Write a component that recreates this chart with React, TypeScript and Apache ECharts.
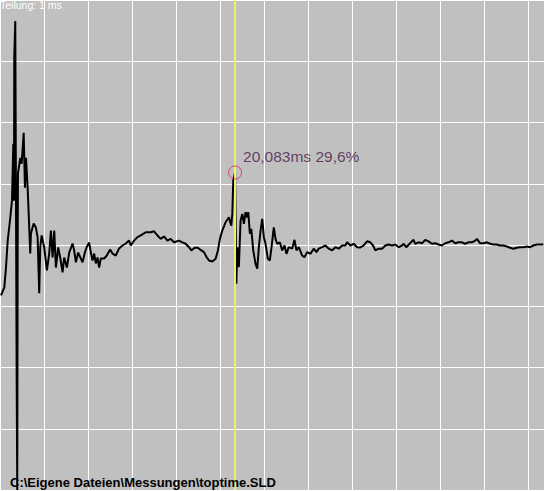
import React, { useEffect, useRef } from "react";
import * as echarts from "echarts";

// time since left edge of the trace window, in ms (1 ms per division)
const timeMs = [
  0.023, 0.098, 0.136, 0.175, 0.227, 0.272, 0.302, 0.318, 0.324, 0.347, 0.379, 0.392, 0.401, 0.408,
  0.46, 0.492, 0.538, 0.567, 0.59, 0.628, 0.658, 0.687, 0.703, 0.764, 0.816, 0.855, 0.891, 0.914,
  0.946, 1.005, 1.066, 1.118, 1.157, 1.195, 1.232, 1.27, 1.322, 1.368, 1.422, 1.458, 1.52, 1.572,
  1.649, 1.685, 1.724, 1.776, 1.837, 1.876, 1.928, 1.966, 2.025, 2.064, 2.102, 2.139, 2.177, 2.216,
  2.252, 2.291, 2.366, 2.427, 2.502, 2.556, 2.631, 2.706, 2.783, 2.858, 2.933, 2.971, 3.046, 3.123,
  3.198, 3.311, 3.425, 3.5, 3.577, 3.652, 3.726, 3.804, 3.878, 3.953, 4.067, 4.144, 4.219, 4.294,
  4.348, 4.423, 4.498, 4.559, 4.634, 4.695, 4.747, 4.824, 4.899, 4.951, 4.997, 5.051, 5.126, 5.201,
  5.255, 5.278, 5.3, 5.34, 5.37, 5.391, 5.427, 5.466, 5.505, 5.541, 5.579, 5.618, 5.641, 5.677,
  5.709, 5.754, 5.806, 5.845, 5.881, 5.92, 5.958, 5.995, 6.033, 6.085, 6.131, 6.169, 6.221, 6.26,
  6.298, 6.357, 6.412, 6.464, 6.509, 6.562, 6.639, 6.691, 6.736, 6.788, 6.866, 6.917, 6.979, 7.054,
  7.128, 7.19, 7.242, 7.319, 7.394, 7.469, 7.546, 7.621, 7.696, 7.773, 7.848, 7.886, 7.961, 8.036,
  8.113, 8.188, 8.263, 8.34, 8.415, 8.476, 8.528, 8.603, 8.68, 8.755, 8.83, 8.907, 8.982, 9.057,
  9.134, 9.17, 9.231, 9.306, 9.361, 9.397, 9.435, 9.51, 9.588, 9.662, 9.737, 9.814, 9.889, 9.964,
  10.041, 10.116, 10.191, 10.268, 10.343, 10.417, 10.494, 10.569, 10.644, 10.721, 10.796, 10.835,
  10.909, 10.984, 11.061, 11.136, 11.211, 11.288, 11.363, 11.438, 11.515, 11.59, 11.665, 11.742,
  11.817, 11.892, 11.969, 12.044, 12.119, 12.196, 12.271, 12.346,
];

// signal level in %
const levelPct = [
  -20.6, -17.3, -9.2, 1.8, 10.0, 18.1, 41.3, 18.1, 76.3, 91.4, -55.2, -100, -5.1, 29.1,
  35.6, 33.2, 45.8, 23.4, 35.6, 23.4, 10.0, -3.5, 4.7, 8.8, 7.1, 3.1, -19.7, -1.0,
  3.9, -1.0, -10.4, -3.5, 5.9, -5.1, 5.9, -9.2, -1.0, -5.1, -11.2, -5.1, -9.2, -3.1,
  0.6, -2.2, -7.1, -3.1, -5.5, -7.1, -3.1, -1.0, 1.0, -3.1, -6.3, -3.5, -7.5, -5.1,
  -9.2, -5.5, -5.5, -4.3, -1.8, -3.5, -4.3, -1.4, -0.2, 0.6, 1.8, -0.2, 1.8, 3.2,
  3.9, 5.2, 5.2, 5.6, 3.9, 2.5, 3.5, 1.8, 2.5, 1.1, 1.8, 1.1, 0.5, -0.9,
  -2.2, -1.1, -1.1, -2.0, -2.9, -5.0, -6.3, -6.7, -5.6, -2.2, 2.5, 5.9, 9.3, 11.3,
  7.9, 12.7, 26.3, 29.6, -15.8, -0.9, -9.0, 10.0, 12.7, 8.6, 13.4, 11.3, 13.4, 4.6,
  6.6, -2.2, -7.7, -9.7, -0.9, 5.9, 10.7, 3.2, 0.5, -5.6, -6.3, -0.9, 7.2, 2.5,
  0.5, 1.1, -2.2, -0.2, -3.6, -0.9, -1.5, 2.1, -2.2, -0.9, -4.3, -5.0, -2.9, -3.6,
  -1.5, -2.9, -1.5, -0.9, -0.2, -1.5, -2.2, -0.9, -1.5, -0.2, -0.2, 1.1, -0.2, 0.5,
  -0.9, -1.0, -0.2, 1.5, 1.1, -0.2, -2.2, -1.5, -1.5, -0.2, 0.2, -0.2, 0.2, -0.9,
  -0.2, 0.5, -0.9, 0.5, 1.5, 2.1, 0.5, 1.1, 0.7, 2.1, 1.5, 0.5, 0.7, 0.2,
  -0.2, 0.7, 1.1, 1.8, 0.7, 1.1, 1.1, 0.5, 1.1, 1.1, 1.8, 2.5,
  0.7, 0.7, 1.1, 0.5, 0.2, 0.2, -0.2, -0.2, -0.6, -1.1, -1.5, -1.1,
  -0.9, -0.9, -0.6, -0.9, -0.2, 0.2, 0.2, 0.2,
];

// cursor
const cursorMs = 5.34;
const cursorPct = 29.6;
const cursorLabel = "20,083ms 29,6%";
const divisionLabel = "Teilung: 1 ms";
const fileLabel = "C:\\Eigene Dateien\\Messungen\\toptime.SLD";

const xMin = 0;
const xMax = 12.36;
const xStep = 1;
const yMin = -100;
const yMax = 100;
const yStep = 25;

const FONT = "'Liberation Sans', Arial, sans-serif";

export default function App() {
  const ref = useRef<HTMLDivElement>(null);

  useEffect(() => {
    document.body.style.margin = "0";
    document.body.style.background = "#c0c0c0";
    if (!ref.current) return;
    const chart = echarts.init(ref.current, undefined, { renderer: "svg" });
    const wave = timeMs.map((t, i) => [t, levelPct[i]]);

    chart.setOption({
      animation: false,
      backgroundColor: "#c0c0c0",
      title: [
        {
          text: divisionLabel,
          left: 0,
          top: -1,
          padding: 0,
          textStyle: { color: "#ffffff", fontSize: 10.5, fontWeight: "normal", fontFamily: FONT },
        },
        {
          text: fileLabel,
          left: 10,
          top: 476,
          padding: 0,
          textStyle: { color: "#000000", fontSize: 13, fontWeight: "bold", fontFamily: FONT },
        },
      ],
      grid: { left: -1, top: -1, width: 545, height: 491, containLabel: false },
      xAxis: {
        type: "value",
        min: xMin,
        max: xMax,
        interval: xStep,
        axisLine: { show: false },
        axisTick: { show: false },
        axisLabel: { show: false },
        splitLine: { show: true, lineStyle: { color: "#ffffff", width: 1 } },
      },
      yAxis: {
        type: "value",
        min: yMin,
        max: yMax,
        interval: yStep,
        axisLine: { show: false },
        axisTick: { show: false },
        axisLabel: { show: false },
        splitLine: { show: true, lineStyle: { color: "#ffffff", width: 1 } },
      },
      series: [
        {
          type: "line",
          data: wave,
          showSymbol: false,
          silent: true,
          lineStyle: { color: "#000000", width: 2 },
          z: 3,
        },
        {
          type: "scatter",
          data: [[cursorMs, cursorPct]],
          symbol: "circle",
          symbolSize: 13,
          silent: true,
          z: 5,
          itemStyle: { color: "rgba(0,0,0,0)", borderColor: "#e0206a", borderWidth: 1 },
          label: {
            show: true,
            position: "right",
            distance: 1,
            offset: [0, -16],
            formatter: cursorLabel,
            color: "#4a1848",
            fontSize: 15.5,
            fontFamily: FONT,
          },
          markLine: {
            silent: true,
            symbol: "none",
            label: { show: false },
            lineStyle: { color: "#f0f070", width: 2, type: "solid" },
            data: [{ xAxis: cursorMs }],
          },
        },
      ],
    });

    return () => chart.dispose();
  }, []);

  return <div ref={ref} style={{ width: 544, height: 491 }} />;
}
